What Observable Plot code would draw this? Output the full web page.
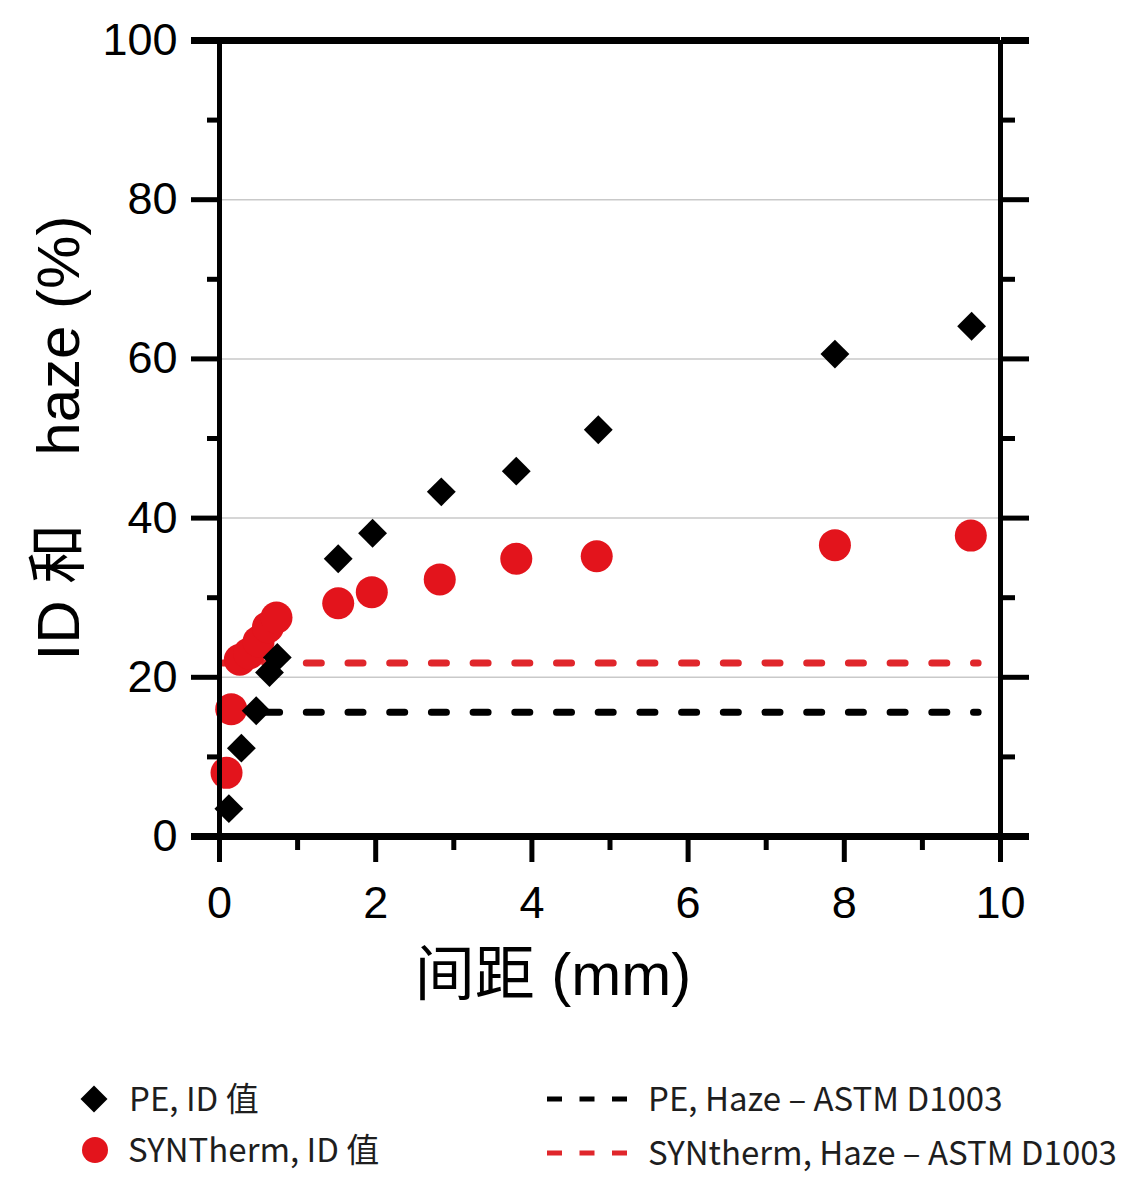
<!DOCTYPE html>
<html><head><meta charset="utf-8">
<script src="https://cdn.jsdelivr.net/npm/d3@7"></script>
<script src="https://cdn.jsdelivr.net/npm/@observablehq/plot@0.6"></script>
<style>
body{margin:0;background:#fff;}
#chart{width:1140px;height:1179px;overflow:hidden;}
#chart svg{display:block;}
</style></head><body><div id="chart"></div>
<script>
// ---- data ----
const peX  = [0.12, 0.28, 0.47, 0.64, 0.74, 1.52, 1.96, 2.84, 3.80, 4.85, 7.88, 9.63];
const peY  = [3.5, 11.1, 15.8, 20.6, 22.5, 34.9, 38.1, 43.3, 45.9, 51.1, 60.6, 64.1];
const synX = [0.09, 0.15, 0.26, 0.38, 0.50, 0.62, 0.73, 1.52, 1.95, 2.82, 3.80, 4.83, 7.88, 9.62];
const synY = [8.0, 16.0, 22.2, 23.0, 24.5, 26.3, 27.5, 29.3, 30.7, 32.3, 34.9, 35.2, 36.6, 37.8];
const hazePE = 15.6;
const hazeSYN = 21.8;
const hazeRange = [0.05, 9.72];
const xTicks = [0, 2, 4, 6, 8, 10];
const xMinor = [1, 3, 5, 7, 9];
const yTicks = [20, 40, 60, 80];
const yEnds = [0, 100];
const yMinor = [10, 30, 50, 70, 90];
const gridY = [20, 40, 60, 80];
const xTitle = "间距 (mm)";
const yTitleA = "ID 和";
const yTitleB = "haze (%)";
const legendItems = ["PE, ID 值", "SYNTherm, ID 值", "PE, Haze – ASTM D1003", "SYNtherm, Haze – ASTM D1003"];

const BLACK = "#000";
const RED = "#e3141c";
const RED_DASH = "#e0262b";
const FONT = '"Liberation Sans", Arial, "Noto Sans CJK SC", sans-serif';

const pe = peX.map((x, i) => ({x, y: peY[i]}));
const syn = synX.map((x, i) => ({x, y: synY[i]}));
const haze = [{y: hazePE, c: BLACK}, {y: hazeSYN, c: RED_DASH}];

const plot = Plot.plot({
  width: 1140, height: 1050,
  marginLeft: 219, marginRight: 140, marginTop: 40, marginBottom: 214,
  x: {domain: [0, 10]},
  y: {domain: [0, 100]},
  style: {fontFamily: FONT, background: "white", color: "#000"},
  marks: [
    Plot.ruleY(gridY, {stroke: "#c9c9c9", strokeWidth: 1.5}),
    Plot.ruleY(haze, {y: "y", x1: hazeRange[0], x2: hazeRange[1], stroke: "c",
      strokeWidth: 7, strokeDasharray: "15,26.7", strokeLinecap: "round"}),
    Plot.dot(syn, {x: "x", y: "y", r: 16, fill: RED}),
    Plot.dot(pe, {x: "x", y: "y", r: 13, symbol: "diamond2", fill: BLACK}),
    Plot.ruleY(yEnds, {stroke: BLACK, strokeWidth: 7}),
    Plot.ruleX([0, 10], {stroke: BLACK, strokeWidth: 5}),
    Plot.axisY(yEnds, {anchor: "left", tickSize: 28, tickPadding: 14, strokeWidth: 7, fontSize: 45, label: null}),
    Plot.axisY(yTicks, {anchor: "left", tickSize: 28, tickPadding: 14, strokeWidth: 5, fontSize: 45, label: null}),
    Plot.axisY(yMinor, {anchor: "left", tickSize: 12, strokeWidth: 5, text: null, label: null}),
    Plot.axisY(yEnds, {anchor: "right", tickSize: 28, strokeWidth: 7, text: null, label: null}),
    Plot.axisY(yTicks, {anchor: "right", tickSize: 28, strokeWidth: 5, text: null, label: null}),
    Plot.axisY(yMinor, {anchor: "right", tickSize: 14, strokeWidth: 5, text: null, label: null}),
    Plot.axisX(xTicks, {anchor: "bottom", tickSize: 26, tickPadding: 24, strokeWidth: 5, fontSize: 45, label: null}),
    Plot.axisX(xMinor, {anchor: "bottom", tickSize: 14, strokeWidth: 5, text: null, label: null})
  ]
});

const svg = d3.select(plot);
// axis titles
svg.append("text")
  .attr("x", 553).attr("y", 995)
  .attr("text-anchor", "middle")
  .attr("font-size", 60)
  .attr("font-family", FONT)
  .attr("fill", "#000")
  .text(xTitle);
const yt = svg.append("text")
  .attr("transform", "translate(79,438) rotate(-90)")
  .attr("text-anchor", "middle")
  .attr("font-size", 60)
  .attr("font-family", FONT)
  .attr("fill", "#000");
yt.append("tspan").text(yTitleA);
yt.append("tspan").attr("dx", 68).text(yTitleB);

document.getElementById("chart").appendChild(plot);

// legend below the plot
const LFONT = '"Noto Sans CJK SC", "Noto Sans", sans-serif';
const leg = d3.select("#chart").append("svg")
  .attr("width", 1140).attr("height", 129)
  .attr("font-family", LFONT).attr("font-size", 33);
const r1 = 49, r2 = 100;
leg.append("path")
  .attr("transform", `translate(94,${r1})`)
  .attr("d", d3.symbol(d3.symbolDiamond2, 465)())
  .attr("fill", BLACK);
leg.append("circle").attr("cx", 95).attr("cy", r2).attr("r", 13).attr("fill", RED);
leg.append("line").attr("x1", 547).attr("x2", 627).attr("y1", r1).attr("y2", r1)
  .attr("stroke", BLACK).attr("stroke-width", 5).attr("stroke-dasharray", "15,17.5");
leg.append("line").attr("x1", 547).attr("x2", 627).attr("y1", r2 + 3).attr("y2", r2 + 3)
  .attr("stroke", RED_DASH).attr("stroke-width", 5).attr("stroke-dasharray", "15,17.5");
const lt = [[129, r1, 0], [128, r2, 1], [648, r1, 2], [648, r2 + 3, 3]];
lt.forEach(([x, y, i]) => {
  leg.append("text").attr("x", x).attr("y", y).attr("dy", "0.36em")
    .attr("fill", "#1e1e1e").text(legendItems[i]);
});
</script>
</body></html>
